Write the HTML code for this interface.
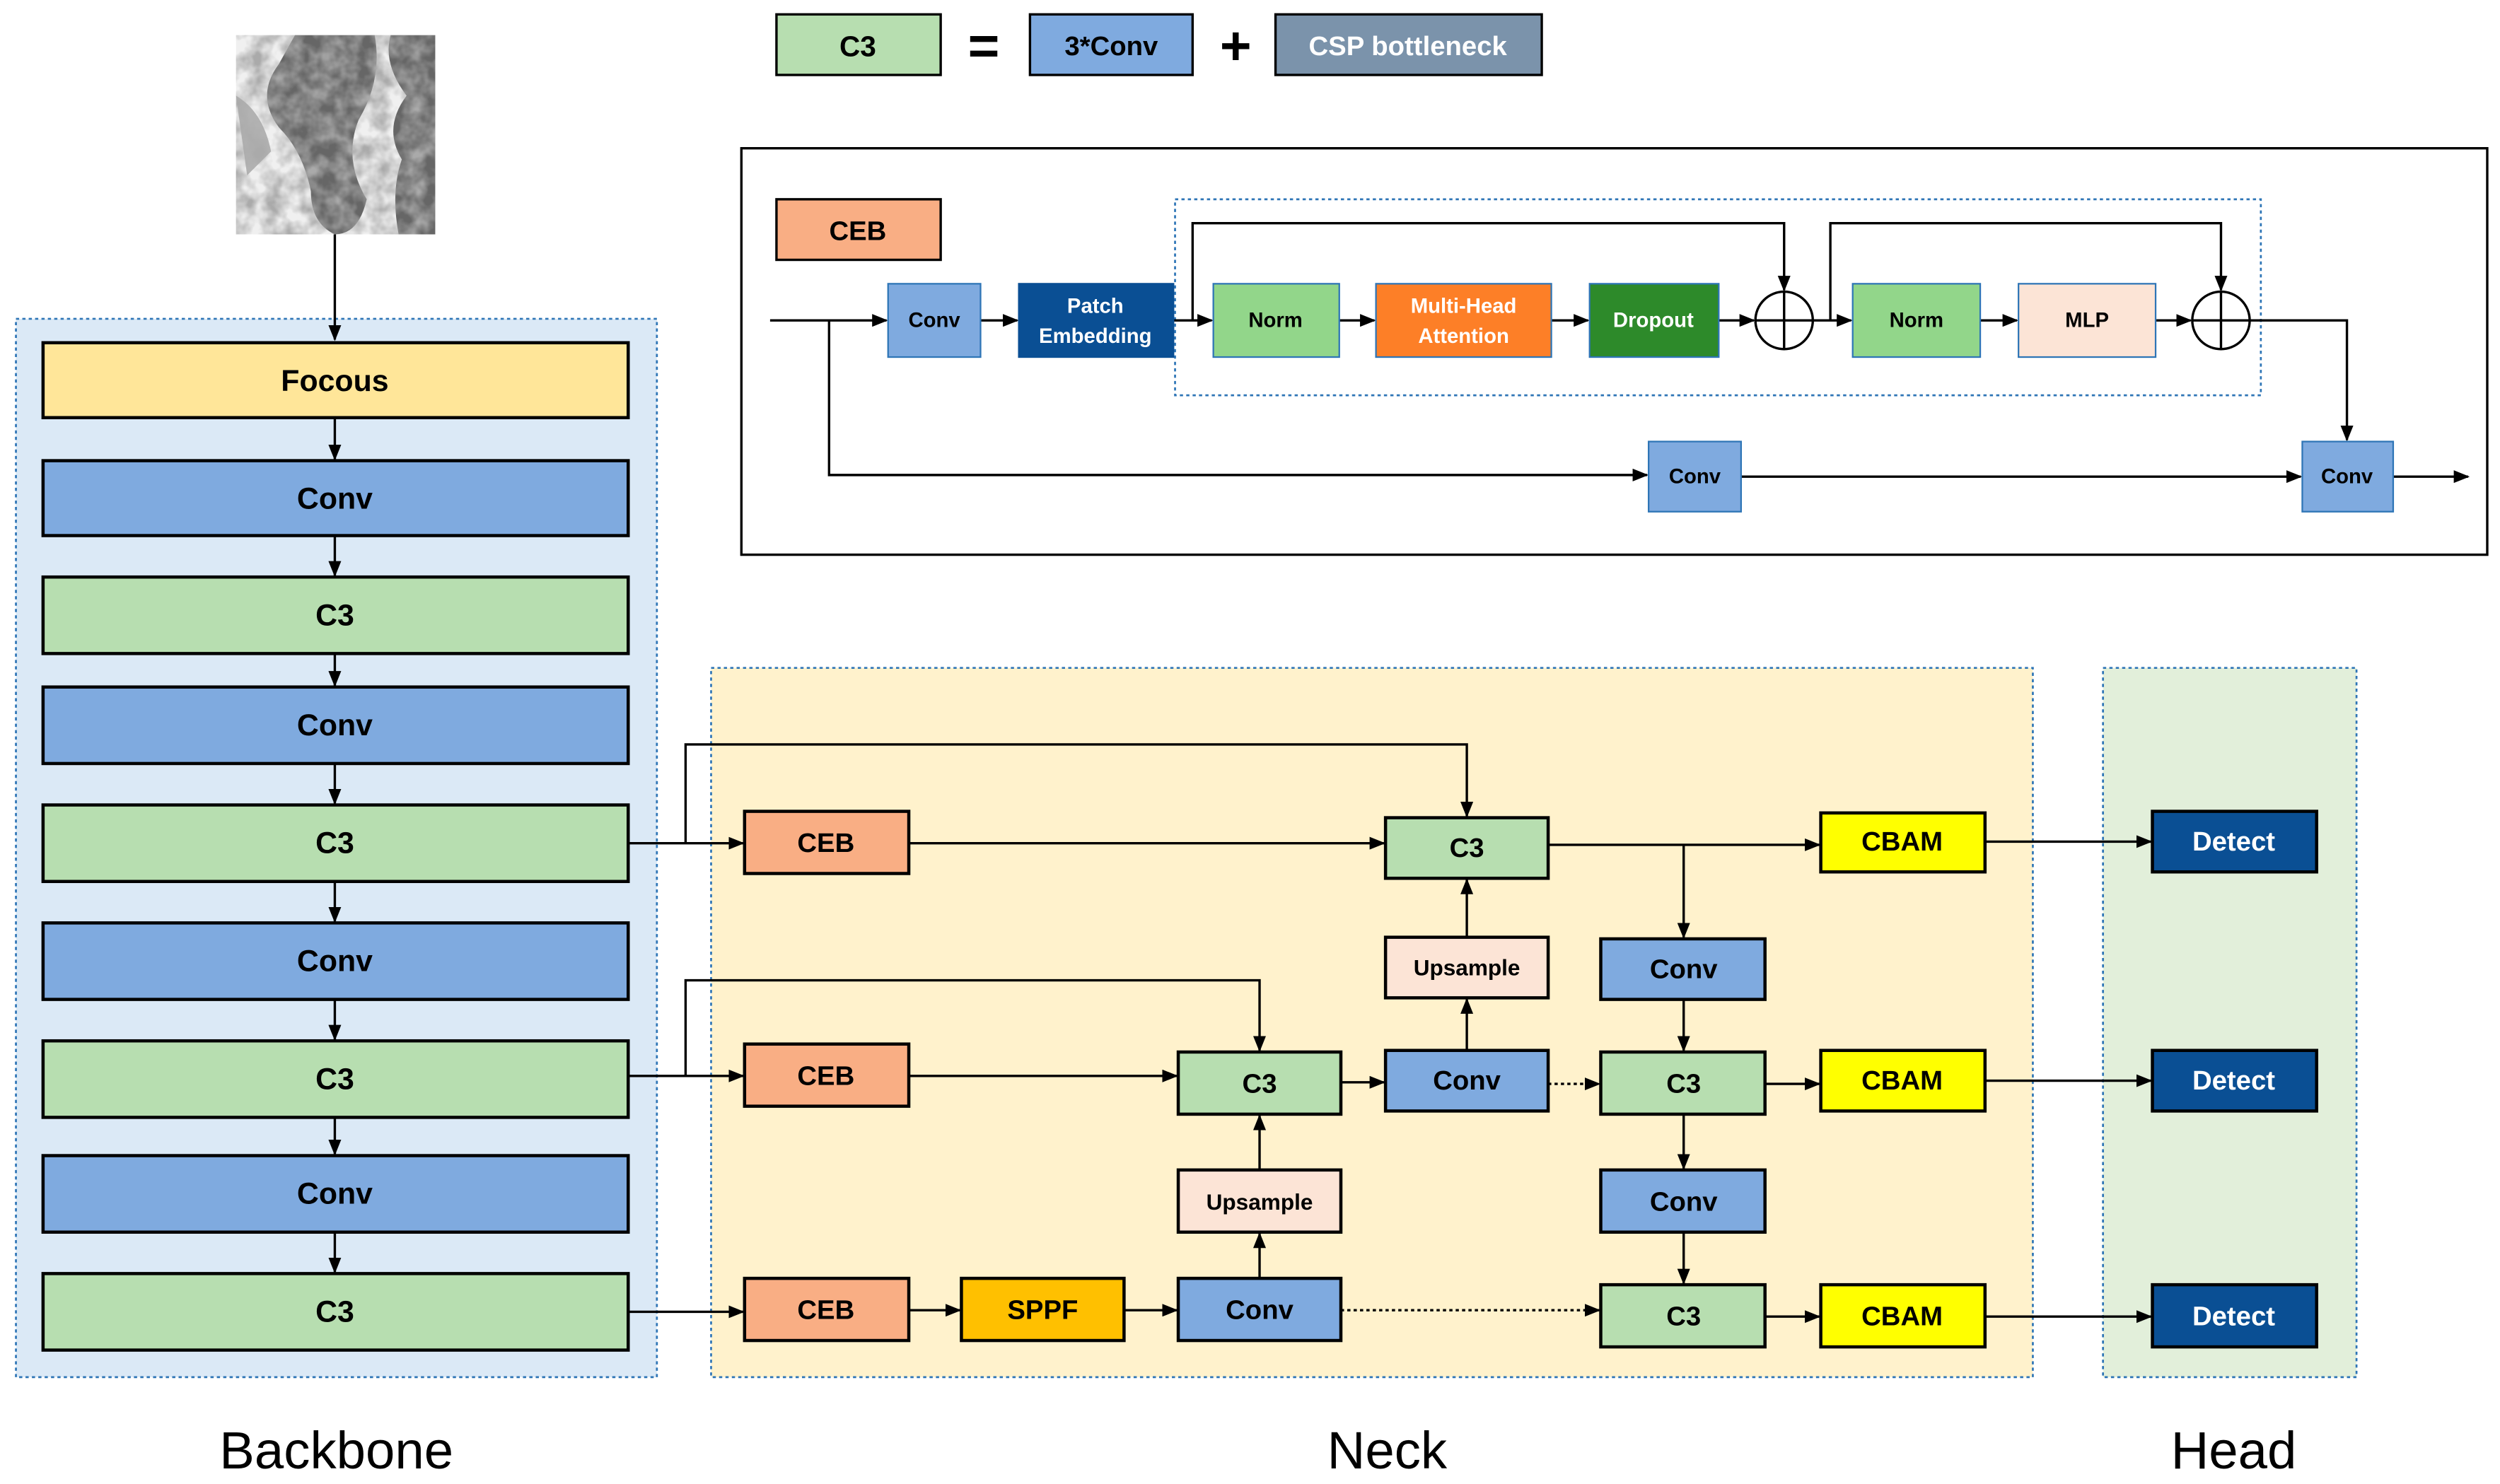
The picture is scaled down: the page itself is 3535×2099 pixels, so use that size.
<!DOCTYPE html>
<html><head><meta charset="utf-8"><style>
html,body{margin:0;padding:0;background:#fff;}
svg{display:block;}
text{font-family:"Liberation Sans",sans-serif;font-weight:bold;text-anchor:middle;dominant-baseline:central;}
</style></head><body>
<svg width="3535" height="2099" viewBox="0 0 1568 931" xmlns="http://www.w3.org/2000/svg">
<defs>
<marker id="a" markerWidth="10" markerHeight="8" refX="9" refY="4" orient="auto" markerUnits="userSpaceOnUse"><path d="M0,0 L10,4 L0,8 z" fill="#000"/></marker>
<filter id="n" x="0" y="0" width="1" height="1"><feTurbulence type="fractalNoise" baseFrequency="0.09" numOctaves="3" seed="4"/><feColorMatrix type="matrix" values="0 0 0 0 0.4  0 0 0 0 0.4  0 0 0 0 0.4  0 0 0 -2.0 1.4"/></filter>
<clipPath id="c"><rect x="148" y="22" width="125" height="125"/></clipPath>
</defs>
<!-- input image -->
<g clip-path="url(#c)">
<rect x="148" y="22" width="125" height="125" fill="#f0f0f0"/>
<path d="M185,22 L235,22 Q240,50 225,75 Q215,100 230,125 Q225,147 210,147 Q195,140 195,120 Q190,95 175,80 Q160,60 175,40 Z" fill="#4d4d4d" opacity="0.85"/>
<path d="M245,22 L273,22 L273,147 L250,147 Q245,120 252,100 Q240,80 255,60 Q240,40 245,22Z" fill="#4d4d4d" opacity="0.85"/>
<path d="M148,60 Q165,70 170,95 L155,110 Z" fill="#888" opacity="0.6"/>
<rect x="148" y="22" width="125" height="125" filter="url(#n)"/>
</g>

<!-- legend -->
<rect x="487" y="9" width="103" height="38" fill="#b7deb0" stroke="#000" stroke-width="1.5"/><text x="538" y="29" font-size="18">C3</text>
<text x="617" y="29" font-size="34">=</text>
<rect x="646" y="9" width="102" height="38" fill="#7faadf" stroke="#000" stroke-width="1.5"/><text x="697" y="29" font-size="17">3*Conv</text>
<text x="775" y="29" font-size="34">+</text>
<rect x="800" y="9" width="167" height="38" fill="#7b93ab" stroke="#000" stroke-width="1.5"/><text x="883" y="29" font-size="17" fill="#fff">CSP bottleneck</text>

<!-- CEB panel -->
<rect x="465" y="93" width="1095" height="255" fill="#fff" stroke="#000" stroke-width="1.5"/>
<rect x="487" y="125" width="103" height="38" fill="#f9ae84" stroke="#000" stroke-width="1.5"/><text x="538" y="145" font-size="17">CEB</text>
<rect x="737" y="125" width="681" height="123" fill="none" stroke="#2e75b6" stroke-width="1.2" stroke-dasharray="2,2"/>
<g stroke="#000" stroke-width="1.5" fill="none">
<line x1="483" y1="201" x2="556" y2="201" marker-end="url(#a)"/>
<line x1="615" y1="201" x2="638" y2="201" marker-end="url(#a)"/>
<line x1="736" y1="201" x2="760" y2="201" marker-end="url(#a)"/>
<line x1="840" y1="201" x2="862" y2="201" marker-end="url(#a)"/>
<line x1="973" y1="201" x2="996" y2="201" marker-end="url(#a)"/>
<line x1="1078" y1="201" x2="1100" y2="201" marker-end="url(#a)"/>
<line x1="1137" y1="201" x2="1161" y2="201" marker-end="url(#a)"/>
<line x1="1242" y1="201" x2="1265" y2="201" marker-end="url(#a)"/>
<line x1="1352" y1="201" x2="1374" y2="201" marker-end="url(#a)"/>
<polyline points="748,201 748,140 1119,140 1119,182" marker-end="url(#a)"/>
<polyline points="1148,201 1148,140 1393,140 1393,182" marker-end="url(#a)"/>
<polyline points="1411,201 1472,201 1472,276" marker-end="url(#a)"/>
<polyline points="520,201 520,298 1033,298" marker-end="url(#a)"/>
<line x1="1092" y1="299" x2="1443" y2="299" marker-end="url(#a)"/>
<line x1="1501" y1="299" x2="1548" y2="299" marker-end="url(#a)"/>
<circle cx="1119" cy="201" r="18"/><line x1="1101" y1="201" x2="1137" y2="201"/><line x1="1119" y1="183" x2="1119" y2="219"/>
<circle cx="1393" cy="201" r="18"/><line x1="1375" y1="201" x2="1411" y2="201"/><line x1="1393" y1="183" x2="1393" y2="219"/>
</g>
<g stroke-width="1">
<rect x="557" y="178" width="58" height="46" fill="#7faadf" stroke="#2e75b6"/><text x="586" y="201" font-size="13">Conv</text>
<rect x="639" y="178" width="97" height="46" fill="#0a4f94" stroke="#0a4f94"/><text x="687" y="192" font-size="13" fill="#fff">Patch</text><text x="687" y="211" font-size="13" fill="#fff">Embedding</text>
<rect x="761" y="178" width="79" height="46" fill="#92d68a" stroke="#2e75b6"/><text x="800" y="201" font-size="13">Norm</text>
<rect x="863" y="178" width="110" height="46" fill="#fd7f27" stroke="#2e75b6"/><text x="918" y="192" font-size="13" fill="#fff">Multi-Head</text><text x="918" y="211" font-size="13" fill="#fff">Attention</text>
<rect x="997" y="178" width="81" height="46" fill="#2d8a2a" stroke="#2e75b6"/><text x="1037" y="201" font-size="13" fill="#fff">Dropout</text>
<rect x="1162" y="178" width="80" height="46" fill="#92d68a" stroke="#2e75b6"/><text x="1202" y="201" font-size="13">Norm</text>
<rect x="1266" y="178" width="86" height="46" fill="#fce4d6" stroke="#2e75b6"/><text x="1309" y="201" font-size="13">MLP</text>
<rect x="1034" y="277" width="58" height="44" fill="#7faadf" stroke="#2e75b6"/><text x="1063" y="299" font-size="13">Conv</text>
<rect x="1444" y="277" width="57" height="44" fill="#7faadf" stroke="#2e75b6"/><text x="1472" y="299" font-size="13">Conv</text>
</g>

<!-- region backgrounds -->
<rect x="10" y="200" width="402" height="664" fill="#dbe9f6" stroke="#2e75b6" stroke-width="1.2" stroke-dasharray="2,2"/>
<rect x="446" y="419" width="829" height="445" fill="#fff2cc" stroke="#2e75b6" stroke-width="1.2" stroke-dasharray="2,2"/>
<rect x="1319" y="419" width="159" height="445" fill="#e2efda" stroke="#2e75b6" stroke-width="1.2" stroke-dasharray="2,2"/>
<line x1="210" y1="147" x2="210" y2="213" stroke="#000" stroke-width="1.5" marker-end="url(#a)"/>
<text x="211" y="910" font-size="33" style="font-weight:normal">Backbone</text>
<text x="870" y="910" font-size="33" style="font-weight:normal">Neck</text>
<text x="1401" y="910" font-size="33" style="font-weight:normal">Head</text>

<!-- backbone -->
<g stroke="#000" stroke-width="2">
<rect x="27" y="215" width="367" height="47" fill="#ffe699"/>
<rect x="27" y="289" width="367" height="47" fill="#7faadf"/>
<rect x="27" y="362" width="367" height="48" fill="#b7deb0"/>
<rect x="27" y="431" width="367" height="48" fill="#7faadf"/>
<rect x="27" y="505" width="367" height="48" fill="#b7deb0"/>
<rect x="27" y="579" width="367" height="48" fill="#7faadf"/>
<rect x="27" y="653" width="367" height="48" fill="#b7deb0"/>
<rect x="27" y="725" width="367" height="48" fill="#7faadf"/>
<rect x="27" y="799" width="367" height="48" fill="#b7deb0"/>
</g>
<g font-size="19">
<text x="210" y="239">Focous</text><text x="210" y="313">Conv</text><text x="210" y="386">C3</text><text x="210" y="455">Conv</text><text x="210" y="529">C3</text><text x="210" y="603">Conv</text><text x="210" y="677">C3</text><text x="210" y="749">Conv</text><text x="210" y="823">C3</text>
</g>
<g stroke="#000" stroke-width="1.5" fill="none">
<line x1="210" y1="262" x2="210" y2="288" marker-end="url(#a)"/>
<line x1="210" y1="336" x2="210" y2="361" marker-end="url(#a)"/>
<line x1="210" y1="410" x2="210" y2="430" marker-end="url(#a)"/>
<line x1="210" y1="479" x2="210" y2="504" marker-end="url(#a)"/>
<line x1="210" y1="553" x2="210" y2="578" marker-end="url(#a)"/>
<line x1="210" y1="627" x2="210" y2="652" marker-end="url(#a)"/>
<line x1="210" y1="701" x2="210" y2="724" marker-end="url(#a)"/>
<line x1="210" y1="773" x2="210" y2="798" marker-end="url(#a)"/>
<line x1="394" y1="529" x2="466" y2="529" marker-end="url(#a)"/>
<polyline points="430,529 430,467 920,467 920,512" marker-end="url(#a)"/>
<line x1="394" y1="675" x2="466" y2="675" marker-end="url(#a)"/>
<polyline points="430,675 430,615 790,615 790,659" marker-end="url(#a)"/>
<line x1="394" y1="823" x2="466" y2="823" marker-end="url(#a)"/>
<line x1="570" y1="529" x2="868" y2="529" marker-end="url(#a)"/>
<line x1="570" y1="675" x2="738" y2="675" marker-end="url(#a)"/>
<line x1="570" y1="822" x2="602" y2="822" marker-end="url(#a)"/>
<line x1="705" y1="822" x2="738" y2="822" marker-end="url(#a)"/>
<line x1="790" y1="802" x2="790" y2="774" marker-end="url(#a)"/>
<line x1="790" y1="734" x2="790" y2="700" marker-end="url(#a)"/>
<line x1="841" y1="679" x2="868" y2="679" marker-end="url(#a)"/>
<line x1="920" y1="659" x2="920" y2="627" marker-end="url(#a)"/>
<line x1="920" y1="588" x2="920" y2="552" marker-end="url(#a)"/>
<line x1="971" y1="530" x2="1141" y2="530" marker-end="url(#a)"/>
<line x1="1056" y1="530" x2="1056" y2="588" marker-end="url(#a)"/>
<line x1="1056" y1="627" x2="1056" y2="659" marker-end="url(#a)"/>
<line x1="1056" y1="699" x2="1056" y2="733" marker-end="url(#a)"/>
<line x1="1056" y1="773" x2="1056" y2="805" marker-end="url(#a)"/>
<line x1="971" y1="680" x2="1003" y2="680" stroke-dasharray="2,2" marker-end="url(#a)"/>
<line x1="841" y1="822" x2="1003" y2="822" stroke-dasharray="2,2" marker-end="url(#a)"/>
<line x1="1107" y1="680" x2="1141" y2="680" marker-end="url(#a)"/>
<line x1="1107" y1="826" x2="1141" y2="826" marker-end="url(#a)"/>
<line x1="1245" y1="528" x2="1349" y2="528" marker-end="url(#a)"/>
<line x1="1245" y1="678" x2="1349" y2="678" marker-end="url(#a)"/>
<line x1="1245" y1="826" x2="1349" y2="826" marker-end="url(#a)"/>
</g>
<g stroke="#000" stroke-width="2">
<rect x="467" y="509" width="103" height="39" fill="#f9ae84"/>
<rect x="467" y="655" width="103" height="39" fill="#f9ae84"/>
<rect x="467" y="802" width="103" height="39" fill="#f9ae84"/>
<rect x="603" y="802" width="102" height="39" fill="#ffc000"/>
<rect x="739" y="802" width="102" height="39" fill="#7faadf"/>
<rect x="739" y="734" width="102" height="39" fill="#fce4d6"/>
<rect x="739" y="660" width="102" height="39" fill="#b7deb0"/>
<rect x="869" y="659" width="102" height="38" fill="#7faadf"/>
<rect x="869" y="588" width="102" height="38" fill="#fce4d6"/>
<rect x="869" y="513" width="102" height="38" fill="#b7deb0"/>
<rect x="1004" y="589" width="103" height="38" fill="#7faadf"/>
<rect x="1004" y="660" width="103" height="39" fill="#b7deb0"/>
<rect x="1004" y="734" width="103" height="39" fill="#7faadf"/>
<rect x="1004" y="806" width="103" height="39" fill="#b7deb0"/>
<rect x="1142" y="510" width="103" height="37" fill="#ffff00"/>
<rect x="1142" y="659" width="103" height="38" fill="#ffff00"/>
<rect x="1142" y="806" width="103" height="39" fill="#ffff00"/>
<rect x="1350" y="509" width="103" height="38" fill="#0a4f94"/>
<rect x="1350" y="659" width="103" height="38" fill="#0a4f94"/>
<rect x="1350" y="806" width="103" height="39" fill="#0a4f94"/>
</g>
<g font-size="17">
<text x="518" y="529">CEB</text><text x="518" y="675">CEB</text><text x="518" y="822">CEB</text>
<text x="654" y="822">SPPF</text><text x="790" y="822">Conv</text>
<text x="790" y="754" font-size="14">Upsample</text><text x="790" y="680">C3</text>
<text x="920" y="678">Conv</text><text x="920" y="607" font-size="14">Upsample</text><text x="920" y="532">C3</text>
<text x="1056" y="608">Conv</text><text x="1056" y="680">C3</text><text x="1056" y="754">Conv</text><text x="1056" y="826">C3</text>
<text x="1193" y="528">CBAM</text><text x="1193" y="678">CBAM</text><text x="1193" y="826">CBAM</text>
<text x="1401" y="528" fill="#fff">Detect</text><text x="1401" y="678" fill="#fff">Detect</text><text x="1401" y="826" fill="#fff">Detect</text>
</g>
</svg>
</body></html>
